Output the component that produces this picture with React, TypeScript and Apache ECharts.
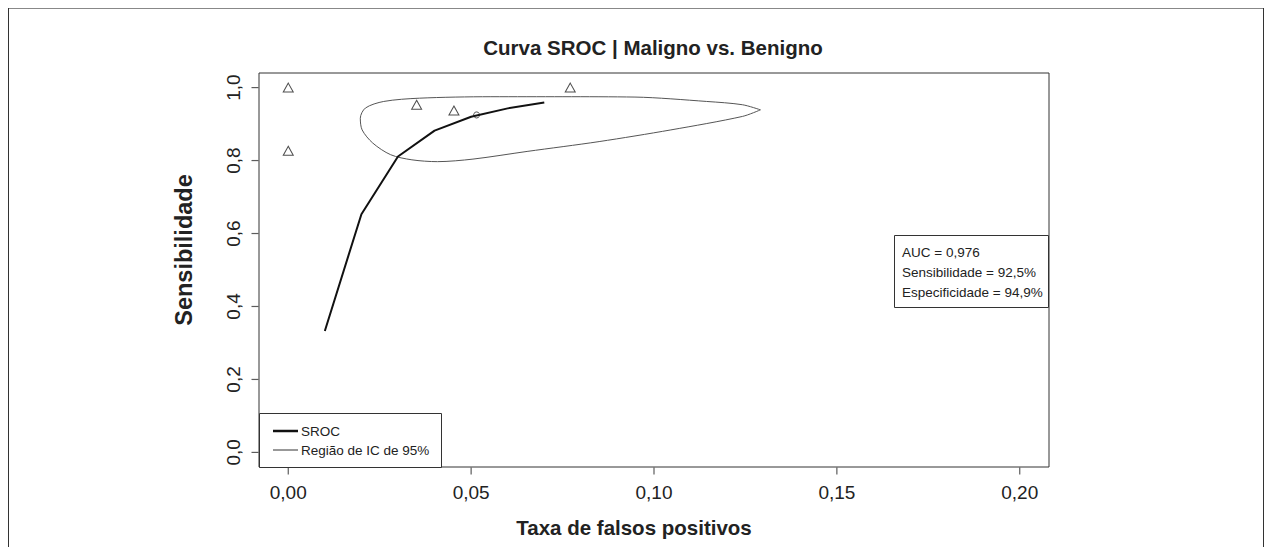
import React, { useEffect, useRef } from "react";
import * as echarts from "echarts";

const xTicks = [0, 0.05, 0.1, 0.15, 0.2];
const yTicks = [0, 0.2, 0.4, 0.6, 0.8, 1.0];

const srocX = [0.01, 0.02, 0.03, 0.04, 0.05, 0.06, 0.07];
const srocY = [0.333, 0.653, 0.811, 0.882, 0.92, 0.943, 0.959];

const studyX = [0, 0, 0.0351, 0.0453, 0.0771];
const studyY = [1.0, 0.827, 0.953, 0.937, 1.0];

const summaryPoint = [0.0515, 0.925];

const ellipseX = [
  0.1291, 0.1242, 0.1144, 0.0948, 0.0751, 0.0554, 0.0359, 0.0261, 0.0211, 0.0197,
  0.0202, 0.0231, 0.028, 0.0338, 0.0408, 0.0505, 0.0653, 0.085, 0.1046, 0.1242, 0.1291,
];
const ellipseY = [
  0.939, 0.953, 0.962, 0.974, 0.975, 0.975, 0.971, 0.962, 0.944, 0.916,
  0.884, 0.848, 0.816, 0.802, 0.797, 0.804, 0.825, 0.852, 0.884, 0.921, 0.939,
];

const titleText = "Curva SROC | Maligno vs. Benigno";
const xTitle = "Taxa de falsos positivos";
const yTitle = "Sensibilidade";
const legendLabels = ["SROC", "Região de IC de 95%"];
const statsLines = ["AUC = 0,976", "Sensibilidade = 92,5%", "Especificidade = 94,9%"];

const FONT = "Liberation Sans, Arial, sans-serif";

export default function App() {
  const ref = useRef<HTMLDivElement>(null);
  useEffect(() => {
    if (!ref.current) return;
    const chart = echarts.init(ref.current, null, { renderer: "svg" });
    const zip = (a: number[], b: number[]) => a.map((v, i) => [v, b[i]]);
    const gl = { left: 259, top: 73, width: 790, height: 394 };
    const xMin = -0.008;
    const xMax = 0.208;
    const yMin = -0.04;
    const yMax = 1.04;
    chart.setOption({
      animation: false,
      backgroundColor: "#fff",
      textStyle: { fontFamily: FONT },
      grid: { ...gl, show: true, borderColor: "#333", borderWidth: 1, backgroundColor: "transparent" },
      xAxis: {
        type: "value",
        min: xMin,
        max: xMax,
        axisLine: { show: false, onZero: false },
        splitLine: { show: false },
        axisTick: { show: false },
        axisLabel: {
          customValues: xTicks,
          margin: 16,
          fontFamily: FONT,
          fontSize: 19,
          color: "#222",
          formatter: (v: number) => v.toFixed(2).replace(".", ","),
        },
      },
      yAxis: {
        type: "value",
        min: yMin,
        max: yMax,
        axisLine: { show: false, onZero: false },
        splitLine: { show: false },
        axisTick: { show: false },
        axisLabel: {
          customValues: yTicks,
          rotate: 90,
          margin: 16,
          fontFamily: FONT,
          fontSize: 19,
          color: "#222",
          formatter: (v: number) => v.toFixed(1).replace(".", ","),
        },
      },
      series: [
        {
          type: "line",
          name: legendLabels[1],
          data: zip(ellipseX, ellipseY),
          smooth: 0.3,
          showSymbol: false,
          lineStyle: { color: "#555", width: 1 },
          z: 2,
        },
        {
          type: "line",
          name: legendLabels[0],
          data: zip(srocX, srocY),
          showSymbol: false,
          lineStyle: { color: "#111", width: 2 },
          z: 3,
        },
        {
          type: "scatter",
          data: zip(studyX, studyY),
          symbol: "triangle",
          symbolSize: [10, 9],
          itemStyle: { color: "transparent", borderColor: "#222", borderWidth: 1 },
          z: 4,
        },
        {
          type: "scatter",
          data: [summaryPoint],
          symbol: "circle",
          symbolSize: 6,
          itemStyle: { color: "transparent", borderColor: "#222", borderWidth: 1 },
          z: 5,
        },
        {
          // R-style outward x ticks: short vertical segments below the box
          type: "scatter",
          data: xTicks.map((v) => [v, yMin]),
          symbol: "rect",
          symbolSize: [1.2, 7],
          symbolOffset: [0, 4],
          clip: false,
          silent: true,
          itemStyle: { color: "#333" },
          z: 6,
        },
        {
          // R-style outward y ticks: short horizontal segments left of the box
          type: "scatter",
          data: yTicks.map((v) => [xMin, v]),
          symbol: "rect",
          symbolSize: [7, 1.2],
          symbolOffset: [-4, 0],
          clip: false,
          silent: true,
          itemStyle: { color: "#333" },
          z: 6,
        },
      ],
      graphic: [
        { type: "line", shape: { x1: 8, y1: 8.5, x2: 1263, y2: 8.5 }, style: { stroke: "#888", lineWidth: 1 } },
        { type: "line", shape: { x1: 8.5, y1: 8, x2: 8.5, y2: 547 }, style: { stroke: "#333", lineWidth: 1 } },
        { type: "line", shape: { x1: 1263.5, y1: 8, x2: 1263.5, y2: 547 }, style: { stroke: "#333", lineWidth: 1 } },
        {
          type: "text",
          x: 653,
          y: 47,
          style: { text: titleText, fontFamily: FONT, fontSize: 20.5, fontWeight: "bold", fill: "#222", align: "center", verticalAlign: "middle" },
        },
        {
          type: "text",
          x: 634,
          y: 527,
          style: { text: xTitle, fontFamily: FONT, fontSize: 20.5, fontWeight: "bold", fill: "#222", align: "center", verticalAlign: "middle" },
        },
        {
          type: "text",
          x: 184,
          y: 250,
          rotation: Math.PI / 2,
          style: { text: yTitle, fontFamily: FONT, fontSize: 23.5, fontWeight: "bold", fill: "#222", align: "center", verticalAlign: "middle" },
        },
        {
          type: "group",
          z: 100,
          children: [
            { type: "rect", shape: { x: 259.5, y: 413.5, width: 182, height: 54 }, style: { fill: "#fff", stroke: "#333", lineWidth: 1 } },
            { type: "line", shape: { x1: 273, y1: 431, x2: 298, y2: 431 }, style: { stroke: "#111", lineWidth: 2.5 } },
            { type: "line", shape: { x1: 273, y1: 450, x2: 298, y2: 450 }, style: { stroke: "#333", lineWidth: 1 } },
            { type: "text", x: 301, y: 431, style: { text: legendLabels[0], fontFamily: FONT, fontSize: 13.5, fill: "#222", verticalAlign: "middle" } },
            { type: "text", x: 301, y: 450, style: { text: legendLabels[1], fontFamily: FONT, fontSize: 13.5, fill: "#222", verticalAlign: "middle" } },
          ],
        },
        {
          type: "group",
          z: 100,
          children: [
            { type: "rect", shape: { x: 894.5, y: 235.5, width: 154, height: 72 }, style: { fill: "#fff", stroke: "#333", lineWidth: 1 } },
            ...statsLines.map((t, i) => ({
              type: "text",
              x: 902,
              y: 252 + i * 20,
              style: { text: t, fontFamily: FONT, fontSize: 13.5, fill: "#222", verticalAlign: "middle" },
            })),
          ],
        },
      ],
    });
    return () => chart.dispose();
  }, []);
  return <div ref={ref} style={{ position: "fixed", left: 0, top: 0, width: 1269, height: 547 }} />;
}
